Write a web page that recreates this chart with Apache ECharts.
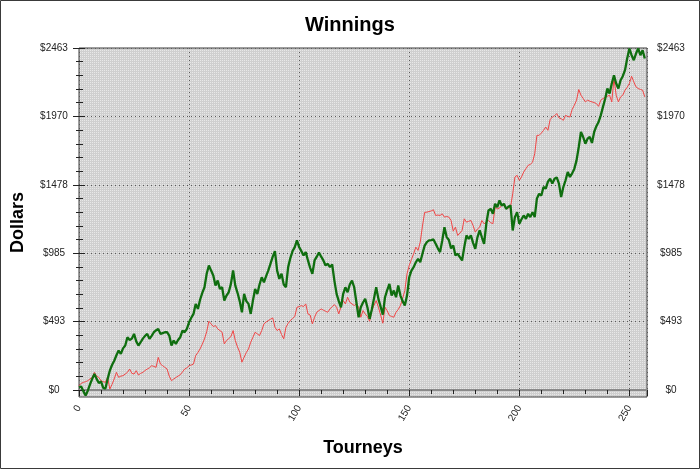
<!DOCTYPE html>
<html>
<head>
<meta charset="utf-8">
<script src="https://cdn.jsdelivr.net/npm/echarts@6/dist/echarts.min.js"></script>
<style>
html,body{margin:0;padding:0;background:#fff;}
#c{width:700px;height:469px;}
</style>
</head>
<body>
<div id="c"></div>
<script>
// ---- data (index = tourney number) ----
const redWinnings = [
31,48,55,60,67,80,91,127,100,91,67,60,55,91,7,40,80,127,91,100,
103,115,127,151,120,115,139,108,120,127,140,151,160,175,170,163,235,187,175,163,
151,100,67,79,90,100,110,130,151,160,175,180,187,248,270,296,330,368,420,495,
476,457,464,440,428,416,332,356,370,385,428,356,310,272,200,236,270,296,344,380,
416,404,392,428,476,490,500,510,519,452,428,440,400,368,452,480,500,515,529,596,
600,608,601,620,548,540,476,524,560,572,584,575,567,560,584,600,615,596,548,600,
644,620,668,632,620,608,620,596,524,572,548,530,495,572,610,644,596,540,481,596,
570,536,530,524,560,580,608,660,716,837,897,940,981,1029,1005,1065,1180,1279,1281,1285,
1290,1298,1257,1260,1257,1269,1245,1250,1245,1221,1144,1173,1113,1130,1149,1233,1209,1215,1221,1185,
1137,1160,1173,1221,1197,1210,1221,1205,1197,1317,1305,1310,1329,1329,1305,1310,1317,1413,1534,1546,
1510,1534,1570,1594,1618,1625,1640,1702,1834,1834,1850,1870,1894,1870,1947,1966,1975,1991,1960,1954,
1942,1978,1970,1966,2020,2051,2087,2164,2123,2100,2075,2087,2080,2075,2070,2063,2043,2087,2099,2106,
2115,2123,2075,2243,2123,2075,2111,2123,2159,2180,2207,2260,2219,2183,2171,2165,2159,2111
];
const greenWinnings = [
20,25,-10,-40,-5,40,80,115,80,50,62,15,10,80,139,180,211,250,284,260,
300,320,380,360,370,404,350,320,344,370,390,404,368,390,416,430,440,404,410,416,
416,392,320,356,332,360,380,428,416,440,488,520,548,620,584,650,700,740,837,897,
860,825,752,788,728,740,644,680,704,764,861,752,700,640,560,692,640,620,548,644,
728,692,760,812,776,820,861,910,960,1000,860,800,837,760,740,885,950,1000,1029,1077,
1029,1000,969,993,933,880,837,933,960,990,960,933,897,909,885,904,788,692,640,596,
692,740,704,760,788,740,632,524,596,630,656,596,512,580,660,740,656,600,543,668,
720,764,680,716,668,752,680,640,608,680,812,860,885,920,945,921,981,1040,1065,1077,
1080,1084,1053,1020,993,1077,1173,1101,1080,1020,1041,969,981,957,933,1029,1113,1089,1113,1060,
1017,1101,1149,1100,1053,1197,1293,1305,1269,1341,1317,1365,1329,1341,1305,1320,1329,1149,1245,1281,
1197,1230,1257,1233,1269,1245,1281,1245,1380,1413,1401,1462,1450,1500,1522,1486,1522,1531,1486,1389,
1462,1510,1570,1534,1560,1594,1654,1750,1858,1822,1774,1810,1822,1779,1858,1900,1930,1978,2039,2098,
2171,2135,2207,2267,2207,2171,2231,2260,2303,2387,2459,2411,2375,2423,2459,2411,2447,2387
];
const yTickValues = [0, 492.6, 985.2, 1477.8, 1970.4, 2463];
const yTickLabels = ['$0', '$493', '$985', '$1478', '$1970', '$2463'];
const xTickInterval = 50;
const xMax = 258;

// ---- styling ----
const FONT = "'Liberation Sans', Arial, sans-serif";
function bgPattern() {
  const c = document.createElement('canvas');
  c.width = 2; c.height = 2;
  const g = c.getContext('2d');
  g.fillStyle = '#cfcfcf'; g.fillRect(0, 0, 2, 2);
  g.fillStyle = '#e8e8e8'; g.fillRect(0, 0, 1, 1);
  return { image: c, repeat: 'repeat' };
}
function yFmt(v) {
  let best = 0;
  for (let i = 0; i < yTickValues.length; i++) {
    if (Math.abs(yTickValues[i] - v) < Math.abs(yTickValues[best] - v)) best = i;
  }
  return yTickLabels[best];
}
const yInterval = yTickValues[1] - yTickValues[0];
const yMax = yTickValues[yTickValues.length - 1];
const dotted = { color: '#5a5a5a', width: 1, type: [1, 3] };
const labelStyle = { fontFamily: FONT, fontSize: 10, color: '#222' };

const chart = echarts.init(document.getElementById('c'), null, { renderer: 'canvas' });
chart.setOption({
  animation: false,
  backgroundColor: '#fff',
  title: {
    text: 'Winnings', left: 'center', top: 10,
    textStyle: { fontFamily: FONT, fontSize: 20, fontWeight: 'bold', color: '#000' }
  },
  graphic: [{
    type: 'rect', silent: true, z: 100,
    shape: { x: 0.5, y: 0.5, width: 699, height: 468 },
    style: { fill: 'none', stroke: '#3a3a3a', lineWidth: 1 }
  }],
  grid: [
    { left: 79, right: 53, top: 48, bottom: 79, show: false },
    { left: 79, right: 53, top: 48, bottom: 72, show: true, z: -1,
      backgroundColor: bgPattern(), borderColor: '#3c3c3c', borderWidth: 1 }
  ],
  xAxis: [
    { // bottom labelled axis at the frame
      type: 'value', gridIndex: 0, position: 'bottom', offset: 7,
      min: 0, max: xMax, interval: xTickInterval,
      axisLine: { show: false },
      axisTick: { show: true, inside: false, length: 6, lineStyle: { color: '#222' } },
      minorTick: { show: true, splitNumber: 5, length: 4, lineStyle: { color: '#222' } },
      axisLabel: { ...labelStyle, rotate: 60, margin: 9, showMaxLabel: false },
      splitLine: { show: true, lineStyle: dotted }
    },
    { // top ticks
      type: 'value', gridIndex: 0, position: 'top',
      min: 0, max: xMax, interval: xTickInterval,
      axisLine: { show: false },
      axisTick: { show: true, inside: true, length: 5, lineStyle: { color: '#222' } },
      minorTick: { show: true, splitNumber: 5, length: 4, lineStyle: { color: '#222' } },
      axisLabel: { show: false }, splitLine: { show: false }
    },
    { // zero line
      type: 'value', gridIndex: 0, position: 'bottom', offset: 0,
      min: 0, max: xMax,
      axisLine: { show: true, lineStyle: { color: '#8a8a8a', width: 2 } },
      axisTick: { show: false }, axisLabel: { show: false }, splitLine: { show: false }
    },
    { // frame grid, holds the axis name
      type: 'value', gridIndex: 1, min: 0, max: 1,
      name: 'Tourneys', nameLocation: 'middle', nameGap: 42,
      nameTextStyle: { fontFamily: FONT, fontSize: 18, fontWeight: 'bold', color: '#000' },
      axisLine: { show: false }, axisTick: { show: false }, axisLabel: { show: false }, splitLine: { show: false }
    }
  ],
  yAxis: [
    { // left labelled
      type: 'value', gridIndex: 0, position: 'left',
      min: 0, max: yMax, interval: yInterval,
      axisLine: { show: false },
      axisTick: { show: true, inside: false, length: 6, lineStyle: { color: '#222' } },
      minorTick: { show: true, splitNumber: 5, length: 3, lineStyle: { color: '#222' } },
      axisLabel: { ...labelStyle, margin: 25, align: 'center', formatter: yFmt },
      splitLine: { show: true, lineStyle: dotted }
    },
    { // right labelled
      type: 'value', gridIndex: 0, position: 'right',
      min: 0, max: yMax, interval: yInterval,
      axisLine: { show: false },
      axisTick: { show: true, inside: false, length: 5, lineStyle: { color: '#222' } },
      minorTick: { show: true, splitNumber: 5, length: 4, lineStyle: { color: '#222' } },
      axisLabel: { ...labelStyle, margin: 24, align: 'center', formatter: yFmt },
      splitLine: { show: false }
    },
    { // left inside ticks (crossing)
      type: 'value', gridIndex: 0, position: 'left',
      min: 0, max: yMax, interval: yInterval,
      axisLine: { show: false },
      axisTick: { show: true, inside: true, length: 6, lineStyle: { color: '#222' } },
      minorTick: { show: true, splitNumber: 5, length: 4, lineStyle: { color: '#222' } },
      axisLabel: { show: false }, splitLine: { show: false }
    },
    { // frame grid, axis name
      type: 'value', gridIndex: 1, min: 0, max: 1,
      name: 'Dollars', nameLocation: 'middle', nameGap: 52, nameRotate: 90,
      nameTextStyle: { fontFamily: FONT, fontSize: 18, fontWeight: 'bold', color: '#000' },
      axisLine: { show: false }, axisTick: { show: false }, axisLabel: { show: false }, splitLine: { show: false }
    }
  ],
  series: [
    {
      name: 'Red', type: 'line', xAxisIndex: 0, yAxisIndex: 0,
      data: redWinnings.map((v, i) => [i, v]),
      showSymbol: false, clip: false,
      lineStyle: { color: '#f04646', width: 1 }, z: 3
    },
    {
      name: 'Green', type: 'line', xAxisIndex: 0, yAxisIndex: 0,
      data: greenWinnings.map((v, i) => [i, v]),
      showSymbol: false, clip: false,
      lineStyle: { color: '#0f6e0f', width: 2.3 }, z: 4
    }
  ]
});
</script>
</body>
</html>
